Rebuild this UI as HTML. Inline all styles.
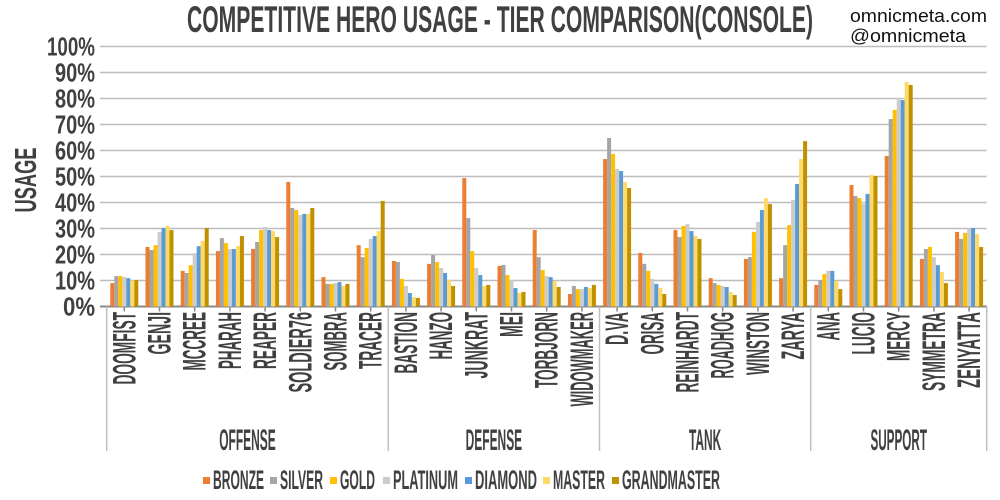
<!DOCTYPE html>
<html><head><meta charset="utf-8"><style>
body{margin:0;background:#fff}
svg{display:block}
text{font-family:"Liberation Sans Narrow","Liberation Sans",sans-serif;font-weight:bold;fill:#404040}
</style></head><body>
<svg id="chart" width="1000" height="500" viewBox="0 0 1000 500" xmlns="http://www.w3.org/2000/svg">
<text x="187" y="32" font-size="37" textLength="626" lengthAdjust="spacingAndGlyphs">COMPETITIVE HERO USAGE - TIER COMPARISON(CONSOLE)</text>
<text x="850" y="22" font-size="18" style="font-family:'Liberation Sans',sans-serif;font-weight:normal;fill:#111" textLength="137" lengthAdjust="spacingAndGlyphs">omnicmeta.com</text>
<text x="850" y="42" font-size="18" style="font-family:'Liberation Sans',sans-serif;font-weight:normal;fill:#111" textLength="116" lengthAdjust="spacingAndGlyphs">@omnicmeta</text>
<text transform="translate(36,180) rotate(-90)" text-anchor="middle" font-size="31" textLength="65" lengthAdjust="spacingAndGlyphs">USAGE</text>
<g id="grid"></g><g id="bars"></g><g id="xlab"></g><g id="legend"></g>
</svg>
<script>
const heroes=["DOOMFIST","GENJI","MCCREE","PHARAH","REAPER","SOLDIER76","SOMBRA","TRACER","BASTION","HANZO","JUNKRAT","MEI","TORBJORN","WIDOWMAKER","D.VA","ORISA","REINHARDT","ROADHOG","WINSTON","ZARYA","ANA","LUCIO","MERCY","SYMMETRA","ZENYATTA"];
const groups=["OFFENSE","DEFENSE","TANK","SUPPORT"];
const groupSizes=[8,6,6,5];
const tiers=["BRONZE","SILVER","GOLD","PLATINUM","DIAMOND","MASTER","GRANDMASTER"];
const yTicks=[0,10,20,30,40,50,60,70,80,90,100];
const bronze=[9.0,22.9,13.7,21.3,22.1,47.9,11.3,23.6,17.5,16.4,49.4,15.6,29.4,4.8,56.7,20.6,29.4,10.9,18.3,10.9,8.3,46.7,57.9,18.3,28.7];
const silver=[11.7,21.7,12.9,26.3,24.8,37.9,8.7,19.0,17.1,19.8,34.0,16.0,19.0,7.9,64.8,16.4,26.7,9.0,19.0,23.6,10.2,42.5,72.1,22.1,26.0];
const gold=[11.7,23.6,15.9,24.4,29.4,37.1,8.7,22.5,10.6,17.1,21.3,12.1,14.0,6.7,58.7,13.7,31.0,8.3,28.7,31.3,12.5,41.7,75.6,22.9,28.3];
const platinum=[11.3,28.7,20.5,22.1,30.6,35.2,9.0,26.0,7.9,14.8,14.8,10.2,11.7,6.7,52.9,10.6,31.7,7.9,32.5,41.0,13.7,39.4,80.2,19.0,30.2];
const diamond=[10.9,30.2,23.2,22.1,29.4,35.6,9.4,27.1,5.2,12.9,12.1,7.1,11.3,7.5,52.1,8.7,29.0,7.5,37.1,47.1,13.7,43.3,79.4,15.9,30.2];
const master=[10.0,31.0,25.2,23.2,29.0,35.6,7.9,29.0,3.6,10.2,7.9,5.2,9.8,7.1,47.9,7.1,27.1,5.6,41.7,56.7,9.8,50.6,86.3,13.3,27.9];
const grandmaster=[10.2,29.4,30.2,27.1,26.7,37.9,8.7,40.6,3.3,7.9,8.3,5.6,7.5,8.3,45.6,4.8,26.0,4.4,39.4,63.6,6.7,50.2,85.2,9.0,22.9];
const series=[bronze,silver,gold,platinum,diamond,master,grandmaster];
const colors=["#ED7D31","#A5A5A5","#FFC000","#CCCCCC","#5B9BD5","#FFD966","#BF9000"];
const NS="http://www.w3.org/2000/svg";
const X0=106.7,X1=986.7,Y0=306.5,Y100=46.5;
const bw=(X1-X0)/heroes.length;
const y=v=>Y0-(v/100)*(Y0-Y100);
const xc=i=>X0+bw*(i+0.5);
function mk(t,a,p){const e=document.createElementNS(NS,t);for(const k in a)e.setAttribute(k,a[k]);p.appendChild(e);return e;}
const grid=document.getElementById('grid');
yTicks.forEach(v=>{
 const l=mk('line',{x1:100,x2:X1,y1:y(v),y2:y(v),stroke:v===0?'#888':'#BDBDBD','stroke-width':v===0?2:1.5},grid);
 
 
 const t=mk('text',{x:95,y:y(v)+9,'text-anchor':'end','font-size':26},grid);
 t.textContent=v+'%';
 t.setAttribute('textLength',v===100?48:v===0?32:40);
 t.setAttribute('lengthAdjust','spacingAndGlyphs');
 
 
});
const bars=document.getElementById('bars');
const barW=4;
series.forEach((s,k)=>{s.forEach((v,i)=>{
 const x=xc(i)-barW*3.5+k*barW;
 const r=mk('rect',{x:x,y:y(v),width:barW,height:Y0-y(v),fill:colors[k]},bars);
 
 
});});
const xl=document.getElementById('xlab');
function tw(s){let w=0;for(const c of s)w+=(c==='I'||c==='.')?4.5:(c==='M'||c==='W')?11:9.5;return w;}
heroes.forEach((h,i)=>{
 const tk=mk('line',{x1:xc(i),x2:xc(i),y1:Y0,y2:Y0+5,stroke:'#888','stroke-width':1.5},xl);
 
 
 const t=mk('text',{transform:`translate(${xc(i)+11},312) rotate(-90)`,'text-anchor':'end','font-size':32,textLength:tw(h),lengthAdjust:'spacingAndGlyphs'},xl);
 t.textContent=h;
 
 
});
let start=0;
const sep=[0];
groupSizes.forEach(n=>{start+=n;sep.push(start);});
sep.forEach(s=>{
 const l=mk('line',{x1:X0+s*bw,x2:X0+s*bw,y1:Y0,y2:451,stroke:'#BFBFBF','stroke-width':1.5},xl);
 
 
});
groups.forEach((g,j)=>{
 const cx=X0+(sep[j]+sep[j+1])/2*bw;
 const t=mk('text',{x:cx,y:450,'text-anchor':'middle','font-size':30,textLength:tw(g)*0.85,lengthAdjust:'spacingAndGlyphs'},xl);
 t.textContent=g;
 
 
});
const lg=document.getElementById('legend');
const lx=[203,270,330,383,465,543,612];
const tl=[51,43,35,65,62,52,98];
tiers.forEach((n,k)=>{
 const g=mk('g',{},lg);
 
 
 mk('rect',{x:lx[k],y:477,width:7,height:7,fill:colors[k]},g);
 const t=mk('text',{x:lx[k]+10,y:489,'font-size':27,textLength:tl[k],lengthAdjust:'spacingAndGlyphs'},g);
 t.textContent=n;
});
</script>
</body></html>
